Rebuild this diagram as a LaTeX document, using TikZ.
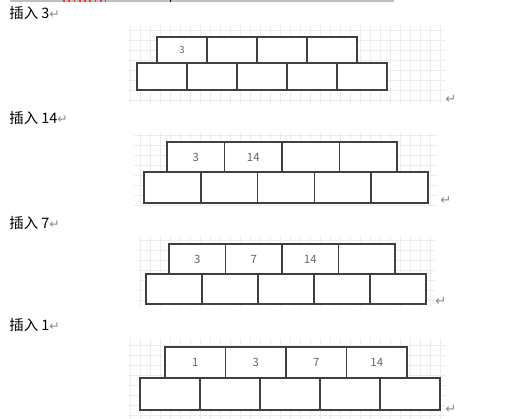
\documentclass[tikz,border=0pt]{standalone}
\usepackage{fontspec}
\newfontfamily\cjk{Noto Sans CJK SC}
\newfontfamily\symb{DejaVu Sans}

\begin{document}
\begin{tikzpicture}[x=0.02cm, y=-0.02cm,
    cell/.style={draw=black!75, fill=white, line width=0.8pt, inner sep=0pt, text=black!60, font=\cjk\fontsize{6.5}{8}\selectfont},
    small/.style={font=\cjk\fontsize{5.5}{7}\selectfont},
    gridline/.style={draw=black!7, line width=0.4pt},
    caption/.style={anchor=west, inner sep=0pt, font=\cjk\fontsize{8.2}{10}\selectfont},
    ret/.style={text=black!45, inner sep=0pt, font=\symb\fontsize{7.5}{8}\selectfont}]
  \useasboundingbox (0,0) rectangle (514,419);

  % Page top
  \draw[black!25, line width=1.5pt] (10,1) -- (394,1);
  \draw[red!80, line width=1pt, dotted] (63,1) -- (106,1);
  \draw[black, line width=0.5pt] (170,0) -- (170,2.5);

  % Grids behind the pictures
  \foreach \gx in {130,140,...,440} \draw[gridline] (\gx,25) -- (\gx,105);
  \foreach \gy in {30,40,...,100} \draw[gridline] (128,\gy) -- (445,\gy);
  \foreach \gx in {140,150,...,430} \draw[gridline] (\gx,132) -- (\gx,205);
  \foreach \gy in {135,145,...,205} \draw[gridline] (134,\gy) -- (438,\gy);
  \foreach \gx in {140,150,...,430} \draw[gridline] (\gx,237) -- (\gx,307);
  \foreach \gy in {240,250,...,300} \draw[gridline] (138,\gy) -- (435,\gy);
  \foreach \gx in {130,140,...,440} \draw[gridline] (\gx,338) -- (\gx,419);
  \foreach \gy in {345,355,...,415} \draw[gridline] (128,\gy) -- (445,\gy);

  % Insert 3
  \node[caption] (cap1) at (9,13) {插入 3{\symb\fontsize{7}{8}\selectfont\color{black!45}↵}};
  \foreach \t [count=\i from 0] in {3,{},{},{}}
    \node[cell, small, minimum width=1cm, minimum height=0.52cm] (p1t\i) at ({182+50*\i},50) {\t};
  \foreach \i in {0,...,4}
    \node[cell, minimum width=1cm, minimum height=0.54cm] (p1b\i) at ({162+50*\i},76.5) {};
  \node[ret] (ret1) at (451,99) {↵};

  % Insert 14
  \node[caption] (cap2) at (9,118) {插入 14{\symb\fontsize{7}{8}\selectfont\color{black!45}↵}};
  \foreach \t [count=\i from 0] in {3,14,{},{}}
    \node[cell, minimum width=1.15cm, minimum height=0.6cm] (p2t\i) at ({195.75+57.5*\i},157) {\t};
  \foreach \i in {0,...,4}
    \node[cell, minimum width=1.136cm, minimum height=0.62cm] (p2b\i) at ({172.4+56.8*\i},187.5) {};
  \node[ret] (ret2) at (446,200) {↵};

  % Insert 7
  \node[caption] (cap3) at (9,223) {插入 7{\symb\fontsize{7}{8}\selectfont\color{black!45}↵}};
  \foreach \t [count=\i from 0] in {3,7,14,{}}
    \node[cell, minimum width=1.13cm, minimum height=0.6cm] (p3t\i) at ({197.25+56.5*\i},259) {\t};
  \foreach \i in {0,...,4}
    \node[cell, minimum width=1.12cm, minimum height=0.6cm] (p3b\i) at ({174+56*\i},289) {};
  \node[ret] (ret3) at (441,301) {↵};

  % Insert 1
  \node[caption] (cap4) at (9,325) {插入 1{\symb\fontsize{7}{8}\selectfont\color{black!45}↵}};
  \foreach \t [count=\i from 0] in {1,3,7,14}
    \node[cell, minimum width=1.21cm, minimum height=0.62cm] (p4t\i) at ({195.25+60.5*\i},362.5) {\t};
  \foreach \i in {0,...,4}
    \node[cell, minimum width=1.2cm, minimum height=0.64cm] (p4b\i) at ({170+60*\i},394) {};
  \node[ret] (ret4) at (451,409) {↵};
\end{tikzpicture}
\end{document}
